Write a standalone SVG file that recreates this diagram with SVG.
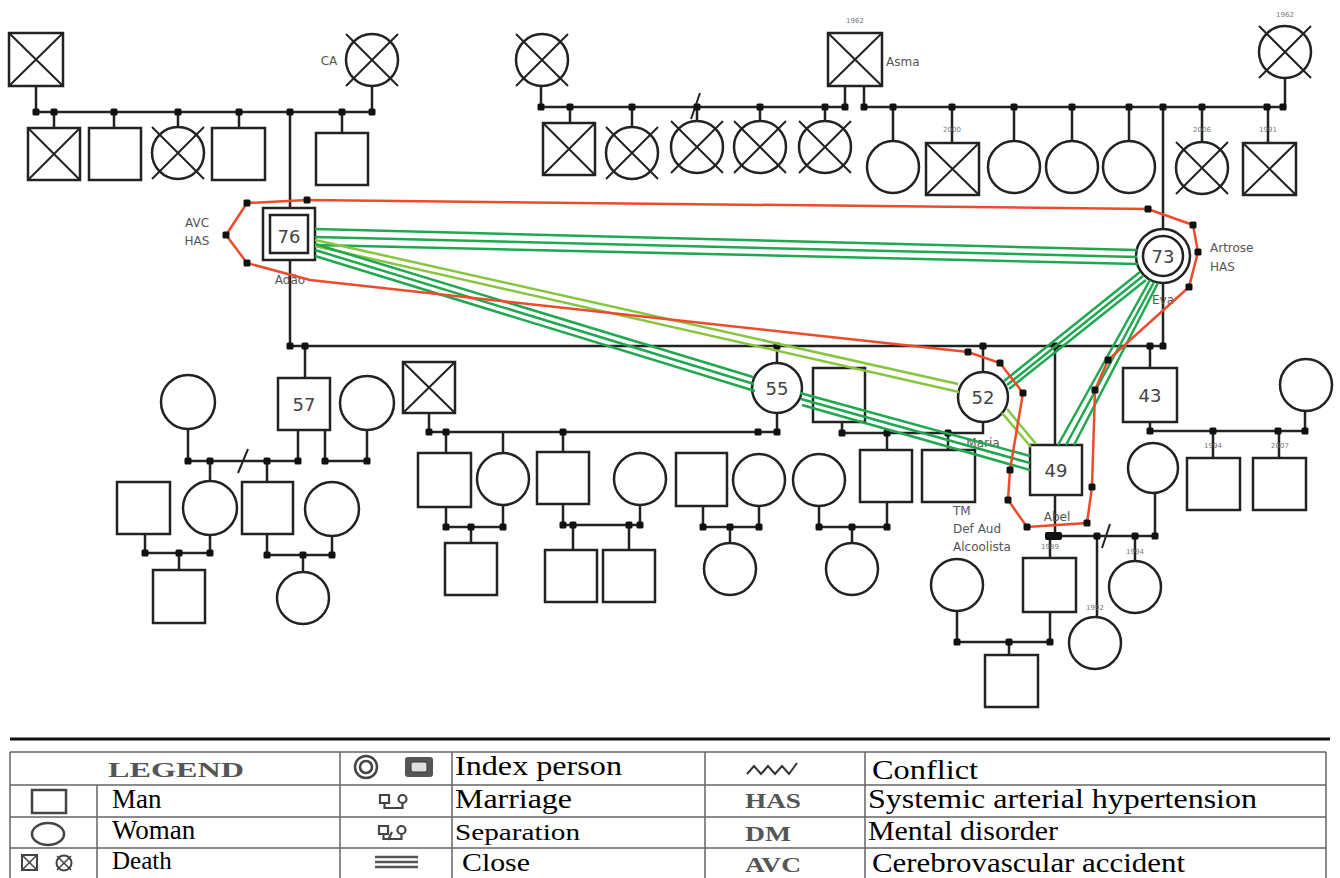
<svg xmlns="http://www.w3.org/2000/svg" xmlns:xlink="http://www.w3.org/1999/xlink" width="1340" height="878" viewBox="0 0 1340 878">
<style>
.n{fill:#fff;stroke:#222;stroke-width:2.5}
.nf{fill:none;stroke:#222;stroke-width:2.5}
.x{stroke:#222;stroke-width:2;fill:none}
.ln{stroke:#222;stroke-width:2.5;fill:none}
.num{font-family:'DejaVu Sans',sans-serif;font-size:18px;fill:#444;text-anchor:middle}
.lbl{font-family:'DejaVu Sans',sans-serif;font-size:12px;fill:#555}
.yr{font-family:'DejaVu Sans',sans-serif;font-size:7px;fill:#777;text-anchor:middle}
.dg{stroke:#1fa84f;stroke-width:2.5;fill:none}
.lg{stroke:#86c540;stroke-width:2.5;fill:none}
.rd{stroke:#ee4a2c;stroke-width:2.5;fill:none}
.tb{stroke:#666;stroke-width:1.5;fill:none}
.lt{font-family:'Liberation Serif',serif;fill:#000}
.ls{font-family:'Liberation Serif',serif;font-weight:bold;fill:#555}
</style>
<defs>
<rect id="d" x="-3.5" y="-3.5" width="7" height="7" rx="1.5" fill="#111"/>
</defs>
<g id="connectors">
<path class="ln" d="M36 86V112M36 112H372M372 86V112M54 112V128M114 112V128M178 112V127M239 112V128M290 112V208M342 112V133"/>
<path class="ln" d="M541 86V107H845V86M570 107V123M632 107V127M697 107V121M760 107V121M825 107V121"/>
<path class="ln" d="M864 86V107H1285V78M893 107V141M952 107V143M1014 107V141M1072 107V141M1129 107V141M1163 107V229M1202 107V142M1268 107V143"/>
<path class="ln" d="M290 260V346H1163V283M305 346V378M777 346V363M983 346V372M1055 346V445M1150 346V368"/>
<path class="ln" d="M188 429V461H298V430M325 430V461H367V430M210 461V481M267 461V482M145 534V553H210V535M179 553V570M267 534V555H332V536M303 555V572"/>
<path class="ln" d="M429 413V432H777V413M446 432V453M503 432V453M563 432V452M446 507V527H503V505M471 527V543M563 504V525H640V505M573 525V550M629 525V550M703 506V527H759V506M730 527V543M819 506V527H887V502M852 527V543"/>
<path class="ln" d="M842 422V433H983V422M887 433V450M948 433V450"/>
<path class="ln" d="M1055 495V536M1047 536H1155V493M1050 536V558M1097 536V617M1135 536V561M957 611V642H1050V612M1009 642V655"/>
<path class="ln" d="M1150 422V431H1305V411M1213 431V458M1279 431V458"/>
<path class="x" d="M691 119L700 93M238 473L248 449M1102 548L1110 524"/>
<g id="dots">
<use href="#d" x="36" y="112"/><use href="#d" x="54" y="112"/><use href="#d" x="114" y="112"/><use href="#d" x="178" y="112"/><use href="#d" x="239" y="112"/><use href="#d" x="290" y="112"/><use href="#d" x="342" y="112"/><use href="#d" x="372" y="112"/>
<use href="#d" x="541" y="107"/><use href="#d" x="570" y="107"/><use href="#d" x="632" y="107"/><use href="#d" x="697" y="107"/><use href="#d" x="760" y="107"/><use href="#d" x="825" y="107"/><use href="#d" x="845" y="107"/>
<use href="#d" x="864" y="107"/><use href="#d" x="893" y="107"/><use href="#d" x="952" y="107"/><use href="#d" x="1014" y="107"/><use href="#d" x="1072" y="107"/><use href="#d" x="1129" y="107"/><use href="#d" x="1163" y="107"/><use href="#d" x="1202" y="107"/><use href="#d" x="1267" y="107"/><use href="#d" x="1283" y="107"/>
<use href="#d" x="290" y="346"/><use href="#d" x="305" y="346"/><use href="#d" x="777" y="346"/><use href="#d" x="983" y="346"/><use href="#d" x="1055" y="346"/><use href="#d" x="1150" y="346"/><use href="#d" x="1163" y="346"/>
<use href="#d" x="188" y="461"/><use href="#d" x="210" y="461"/><use href="#d" x="267" y="461"/><use href="#d" x="298" y="461"/><use href="#d" x="325" y="461"/><use href="#d" x="367" y="461"/><use href="#d" x="145" y="553"/><use href="#d" x="179" y="553"/><use href="#d" x="210" y="553"/><use href="#d" x="267" y="555"/><use href="#d" x="303" y="555"/><use href="#d" x="332" y="555"/>
<use href="#d" x="429" y="432"/><use href="#d" x="446" y="432"/><use href="#d" x="563" y="432"/><use href="#d" x="758" y="432"/><use href="#d" x="777" y="432"/><use href="#d" x="446" y="527"/><use href="#d" x="471" y="527"/><use href="#d" x="503" y="527"/><use href="#d" x="563" y="525"/><use href="#d" x="573" y="525"/><use href="#d" x="629" y="525"/><use href="#d" x="640" y="525"/><use href="#d" x="703" y="527"/><use href="#d" x="730" y="527"/><use href="#d" x="759" y="527"/><use href="#d" x="819" y="527"/><use href="#d" x="852" y="527"/><use href="#d" x="887" y="527"/>
<use href="#d" x="842" y="433"/><use href="#d" x="887" y="433"/><use href="#d" x="948" y="433"/>
<rect x="1045" y="532" width="17" height="8" rx="2" fill="#111"/><use href="#d" x="1097" y="536"/><use href="#d" x="1135" y="536"/><use href="#d" x="1155" y="536"/><use href="#d" x="957" y="642"/><use href="#d" x="1009" y="642"/><use href="#d" x="1050" y="642"/>
<use href="#d" x="1150" y="431"/><use href="#d" x="1213" y="431"/><use href="#d" x="1278" y="431"/><use href="#d" x="1305" y="431"/>
</g>
</g>
<g id="nodes">
<g id="gf1"><rect class="n" x="9" y="33" width="54" height="53"/><path class="x" d="M9 33L63 86M63 33L9 86"/></g>
<g id="gm1"><circle class="n" cx="372" cy="60" r="26"/><path class="x" d="M346 34L398 86M398 34L346 86"/><text class="lbl" x="329" y="65" text-anchor="middle">CA</text></g>
<g id="a1"><rect class="n" x="28" y="128" width="52" height="52"/><path class="x" d="M28 128L80 180M80 128L28 180"/></g>
<g id="a2"><rect class="n" x="89" y="128" width="52" height="52"/></g>
<g id="a3"><circle class="n" cx="178" cy="153" r="26"/><path class="x" d="M152 127L204 179M204 127L152 179"/></g>
<g id="a4"><rect class="n" x="212" y="128" width="53" height="52"/></g>
<g id="a5"><rect class="n" x="316" y="133" width="52" height="52"/></g>
<g id="gm2"><circle class="n" cx="542" cy="60" r="26"/><path class="x" d="M516 34L568 86M568 34L516 86"/></g>
<g id="asma"><rect class="n" x="828" y="33" width="54" height="53"/><path class="x" d="M828 33L882 86M882 33L828 86"/><text class="yr" x="855" y="23">1962</text><text class="lbl" x="886" y="66">Asma</text></g>
<g id="gm3"><circle class="n" cx="1285" cy="52" r="26"/><path class="x" d="M1259 26L1311 78M1311 26L1259 78"/><text class="yr" x="1285" y="17">1962</text></g>
<g id="b1"><rect class="n" x="543" y="123" width="52" height="52"/><path class="x" d="M543 123L595 175M595 123L543 175"/></g>
<g id="b2"><circle class="n" cx="632" cy="153" r="26"/><path class="x" d="M606 127L658 179M658 127L606 179"/></g>
<g id="b3"><circle class="n" cx="697" cy="147" r="26"/><path class="x" d="M671 121L723 173M723 121L671 173"/></g>
<g id="b4"><circle class="n" cx="760" cy="147" r="26"/><path class="x" d="M734 121L786 173M786 121L734 173"/></g>
<g id="b5"><circle class="n" cx="825" cy="147" r="26"/><path class="x" d="M799 121L851 173M851 121L799 173"/></g>
<g id="c1"><circle class="n" cx="893" cy="167" r="26"/></g>
<g id="c2"><rect class="n" x="926" y="143" width="53" height="52"/><path class="x" d="M926 143L979 195M979 143L926 195"/><text class="yr" x="952" y="132">2000</text></g>
<g id="c3"><circle class="n" cx="1014" cy="167" r="26"/></g>
<g id="c4"><circle class="n" cx="1072" cy="167" r="26"/></g>
<g id="c5"><circle class="n" cx="1129" cy="167" r="26"/></g>
<g id="c6"><circle class="n" cx="1202" cy="168" r="26"/><path class="x" d="M1176 142L1228 194M1228 142L1176 194"/><text class="yr" x="1202" y="132">2006</text></g>
<g id="c7"><rect class="n" x="1243" y="143" width="53" height="52"/><path class="x" d="M1243 143L1296 195M1296 143L1243 195"/><text class="yr" x="1268" y="132">1991</text></g>
<g id="adao"><rect class="n" x="263" y="208" width="52" height="52"/><rect class="n" x="270" y="215" width="38" height="38"/><text class="num" x="289" y="243">76</text><text class="lbl" x="290" y="284" text-anchor="middle">Adão</text><text class="lbl" x="197" y="227" text-anchor="middle">AVC</text><text class="lbl" x="197" y="245" text-anchor="middle">HAS</text></g>
<g id="eva"><circle class="n" cx="1163" cy="256" r="27"/><circle class="n" cx="1163" cy="256" r="20"/><text class="num" x="1163" y="263">73</text><text class="lbl" x="1163" y="304" text-anchor="middle" font-size="11">Eva</text><text class="lbl" x="1210" y="252" font-size="13">Artrose</text><text class="lbl" x="1210" y="271" font-size="13">HAS</text></g>
<g id="p57"><rect class="n" x="278" y="378" width="52" height="52"/><text class="num" x="304" y="411">57</text></g>
<g id="w57a"><circle class="n" cx="188" cy="402" r="27"/></g>
<g id="w57b"><circle class="n" cx="367" cy="403" r="27"/></g>
<g id="d57a"><circle class="n" cx="210" cy="508" r="27"/></g>
<g id="s57a"><rect class="n" x="242" y="482" width="51" height="52"/></g>
<g id="h57a"><rect class="n" x="117" y="482" width="53" height="52"/></g>
<g id="w57c"><circle class="n" cx="332" cy="509" r="27"/></g>
<g id="g57a"><rect class="n" x="153" y="570" width="52" height="53"/></g>
<g id="g57b"><circle class="n" cx="303" cy="598" r="26"/></g>
<g id="h55"><rect class="n" x="403" y="362" width="52" height="51"/><path class="x" d="M403 362L455 413M455 362L403 413"/></g>
<g id="p55"><circle class="n" cx="777" cy="388" r="25"/><text class="num" x="777" y="395">55</text></g>
<g id="k1"><rect class="n" x="418" y="453" width="53" height="54"/></g>
<g id="k2"><circle class="n" cx="503" cy="479" r="26"/></g>
<g id="k3"><rect class="n" x="537" y="452" width="52" height="52"/></g>
<g id="k4"><circle class="n" cx="640" cy="479" r="26"/></g>
<g id="k5"><rect class="n" x="445" y="543" width="52" height="52"/></g>
<g id="k6"><rect class="n" x="545" y="550" width="52" height="52"/></g>
<g id="k7"><rect class="n" x="603" y="550" width="52" height="52"/></g>
<g id="k8"><rect class="n" x="676" y="453" width="51" height="53"/></g>
<g id="k9"><circle class="n" cx="759" cy="480" r="26"/></g>
<g id="k10"><circle class="n" cx="730" cy="569" r="26"/></g>
<g id="k11"><circle class="n" cx="819" cy="480" r="26"/></g>
<g id="k12"><rect class="n" x="860" y="450" width="52" height="52"/></g>
<g id="k13"><circle class="n" cx="852" cy="569" r="26"/></g>
<g id="hm"><rect class="nf" x="813" y="368" width="52" height="54"/></g>
<g id="maria"><circle class="n" cx="983" cy="397" r="25"/><text class="num" x="983" y="404">52</text><text class="lbl" x="983" y="447" text-anchor="middle">Maria</text></g>
<g id="k14"><rect class="n" x="922" y="450" width="53" height="52"/><text class="lbl" x="953" y="515">TM</text><text class="lbl" x="953" y="533">Def Aud</text><text class="lbl" x="953" y="551">Alcoolista</text></g>
<g id="abel"><rect class="n" x="1030" y="445" width="52" height="50"/><text class="num" x="1056" y="477">49</text><text class="lbl" x="1057" y="521" text-anchor="middle">Abel</text></g>
<g id="wab"><circle class="n" cx="1153" cy="468" r="25"/></g>
<g id="ab1"><rect class="n" x="1023" y="558" width="53" height="54"/><text class="yr" x="1050" y="549">1989</text></g>
<g id="ab2"><circle class="n" cx="1095" cy="643" r="26"/><text class="yr" x="1095" y="610">1992</text></g>
<g id="ab3"><circle class="n" cx="1135" cy="587" r="26"/><text class="yr" x="1135" y="554">1994</text></g>
<g id="wab1"><circle class="n" cx="957" cy="585" r="26"/></g>
<g id="gab"><rect class="n" x="985" y="655" width="53" height="52"/></g>
<g id="p43"><rect class="n" x="1123" y="368" width="54" height="54"/><text class="num" x="1150" y="402">43</text></g>
<g id="w43"><circle class="n" cx="1306" cy="385" r="26"/></g>
<g id="c43a"><rect class="n" x="1187" y="458" width="53" height="52"/><text class="yr" x="1213" y="448">1994</text></g>
<g id="c43b"><rect class="n" x="1253" y="458" width="53" height="52"/><text class="yr" x="1280" y="448">2007</text></g>
</g>
<g id="relations">
<path class="dg" d="M315 229L1137 250M315 237L1137 257M315 245L1138 264"/>
<path class="lg" d="M315 240L958 384M315 246L959 392"/>
<path class="dg" d="M315 244L753 377M315 250L754 384M315 256L755 391"/>
<path class="dg" d="M800 393L1030 456M801 399L1030 463M802 405L1030 470"/>
<path class="lg" d="M1002 413L1031 447M1007 409L1036 444"/>
<path class="dg" d="M1140 272L1004 381M1143 276L1007 385M1146 280L1009 389"/>
<path class="dg" d="M1150 280L1058 445M1154 282L1066 445M1158 283L1074 445"/>
<path class="rd" d="M226 235L247 203L307 200L1148 209L1193 225L1198 252L1189 287L1108 360L1095 390L1092 487L1087 523L1027 527L1008 500L1010 470L1023 393L1000 363L968 352L310 280L247 263Z"/>
<g>
<use href="#d" x="247" y="203"/><use href="#d" x="226" y="235"/><use href="#d" x="247" y="263"/><use href="#d" x="307" y="200"/><use href="#d" x="1148" y="209"/><use href="#d" x="1193" y="225"/><use href="#d" x="1198" y="252"/><use href="#d" x="1189" y="287"/><use href="#d" x="1108" y="360"/><use href="#d" x="1095" y="390"/><use href="#d" x="1092" y="487"/><use href="#d" x="1087" y="523"/><use href="#d" x="1027" y="527"/><use href="#d" x="1008" y="500"/><use href="#d" x="1010" y="470"/><use href="#d" x="1023" y="393"/><use href="#d" x="1000" y="363"/><use href="#d" x="968" y="352"/>
</g>
</g>
<g id="legend">
<line x1="10" y1="739" x2="1330" y2="739" stroke="#111" stroke-width="3"/>
<path class="tb" d="M10 752H1326M10 785H1326M10 817H1326M10 848H1326M10 752V878M97 785V878M340 752V878M452 752V878M705 752V878M865 752V878M1326 752V878"/>
<text class="ls" x="108" y="777" font-size="21" textLength="136" lengthAdjust="spacingAndGlyphs">LEGEND</text>
<rect x="32" y="790" width="34" height="23" fill="none" stroke="#444" stroke-width="2.5"/>
<ellipse cx="48" cy="834" rx="16" ry="11" fill="none" stroke="#444" stroke-width="2.5"/>
<rect x="22" y="855" width="15" height="15" fill="none" stroke="#444" stroke-width="2"/><path d="M22 855L37 870M37 855L22 870" stroke="#444" stroke-width="1.5"/>
<circle cx="64" cy="863" r="7.5" fill="none" stroke="#444" stroke-width="2"/><path d="M57 856L71 870M71 856L57 870" stroke="#444" stroke-width="1.5"/>
<text class="lt" x="112" y="808" font-size="27">Man</text>
<text class="lt" x="112" y="839" font-size="27">Woman</text>
<text class="lt" x="112" y="869" font-size="25">Death</text>
<circle cx="366" cy="767" r="11" fill="none" stroke="#444" stroke-width="2.5"/><circle cx="366" cy="767" r="6" fill="none" stroke="#444" stroke-width="2.5"/>
<rect x="405" y="757" width="28" height="20" rx="3" fill="#555"/><rect x="411" y="762" width="16" height="10" rx="2" fill="#ddd" stroke="#333" stroke-width="1"/>
<path d="M380 795h9v8h-9zM384.5 803v5h18v-5" fill="none" stroke="#444" stroke-width="2.2"/>
<circle cx="402.5" cy="799" r="4" fill="none" stroke="#444" stroke-width="2.2"/>
<path d="M379 826h9v8h-9zM383.5 834v5h18v-5M388 840l4-8" fill="none" stroke="#444" stroke-width="2.2"/>
<circle cx="401.5" cy="830" r="4" fill="none" stroke="#444" stroke-width="2.2"/>
<path d="M375 857H418M375 862H418M375 867H418" stroke="#555" stroke-width="2.5"/>
<text class="lt" x="455" y="775" font-size="28" textLength="167" lengthAdjust="spacingAndGlyphs">Index person</text>
<text class="lt" x="455" y="808" font-size="28" textLength="117" lengthAdjust="spacingAndGlyphs">Marriage</text>
<text class="lt" x="455" y="840" font-size="24" textLength="125" lengthAdjust="spacingAndGlyphs">Separation</text>
<text class="lt" x="462" y="871" font-size="26" textLength="68" lengthAdjust="spacingAndGlyphs">Close</text>
<path d="M747 774L754 766L761 774L768 766L775 774L782 766L789 774L797 763" fill="none" stroke="#333" stroke-width="2"/>
<text class="ls" x="745" y="808" font-size="22" textLength="56" lengthAdjust="spacingAndGlyphs">HAS</text>
<text class="ls" x="745" y="841" font-size="22" textLength="46" lengthAdjust="spacingAndGlyphs">DM</text>
<text class="ls" x="745" y="872" font-size="22" textLength="56" lengthAdjust="spacingAndGlyphs">AVC</text>
<text class="lt" x="872" y="779" font-size="28" textLength="106" lengthAdjust="spacingAndGlyphs">Conflict</text>
<text class="lt" x="868" y="808" font-size="28" textLength="389" lengthAdjust="spacingAndGlyphs">Systemic arterial hypertension</text>
<text class="lt" x="868" y="840" font-size="28" textLength="190" lengthAdjust="spacingAndGlyphs">Mental disorder</text>
<text class="lt" x="872" y="872" font-size="28" textLength="313" lengthAdjust="spacingAndGlyphs">Cerebrovascular accident</text>
</g>
</svg>
